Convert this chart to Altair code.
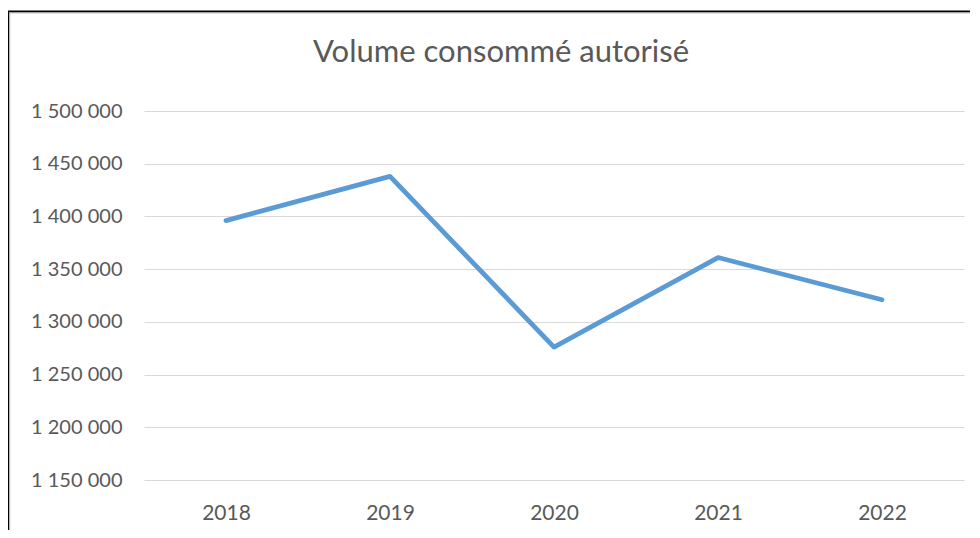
import altair as alt
import pandas as pd

# ---- data ----
years = ["2018", "2019", "2020", "2021", "2022"]
volumes = [1396000, 1438000, 1276000, 1361000, 1321000]
y_ticks = [1150000, 1200000, 1250000, 1300000, 1350000, 1400000, 1450000, 1500000]
title_text = "Volume consommé autorisé"

df = pd.DataFrame({"annee": years, "volume": volumes})

FONT = "Lato"
GREY_TXT = "#595959"

x_enc = alt.X(
    "annee:N",
    sort=years,
    title=None,
    scale=alt.Scale(paddingInner=0, paddingOuter=0),
    axis=alt.Axis(
        labelAngle=0,
        labelFont=FONT,
        labelFontSize=21,
        labelColor=GREY_TXT,
        labelPadding=22,
        ticks=False,
        domain=False,
        grid=False,
    ),
)
y_enc = alt.Y(
    "volume:Q",
    title=None,
    scale=alt.Scale(domain=[1150000, 1500000], nice=False, zero=False),
    axis=alt.Axis(
        values=y_ticks,
        labelExpr="replace(format(datum.value, ','), regexp(',', 'g'), ' ')",
        labelFont=FONT,
        labelFontSize=20,
        labelColor=GREY_TXT,
        labelPadding=22,
        ticks=False,
        domain=False,
        grid=True,
        gridColor="#d9d9d9",
        gridWidth=1.2,
    ),
)

line = alt.Chart(df).mark_line(
    color="#5b9bd5", strokeWidth=4.8, strokeCap="round", strokeJoin="round"
).encode(x=x_enc, y=y_enc)

frame_df = pd.DataFrame({"k": [0]})
frame = alt.Chart(frame_df).mark_rect(
    filled=False, stroke="#000000", strokeWidth=1.8, fillOpacity=0
).encode(
    x=alt.value(-135.8), x2=alt.value(860), y=alt.value(-99.7), y2=alt.value(460)
)
frame_shadow = alt.Chart(frame_df).mark_rect(
    filled=False, stroke="#c8c8c8", strokeWidth=1.2, fillOpacity=0
).encode(
    x=alt.value(-134.3), x2=alt.value(858), y=alt.value(-98.2), y2=alt.value(458)
)

chart = alt.layer(line, frame_shadow, frame).properties(
    width=820,
    height=369,
    background="white",
    autosize=alt.AutoSizeParams(type="none"),
    padding={"left": 136, "top": 103, "right": 6, "bottom": 50},
    title=alt.TitleParams(
        text=title_text,
        font=FONT,
        fontSize=31,
        fontWeight="normal",
        color=GREY_TXT,
        anchor="middle",
        frame="group",
        dx=-53,
        baseline="alphabetic",
        offset=-83,
    ),
).configure_view(strokeWidth=0, stroke="transparent")

chart.save("out.html", embed_options={"renderer": "svg", "actions": False})
